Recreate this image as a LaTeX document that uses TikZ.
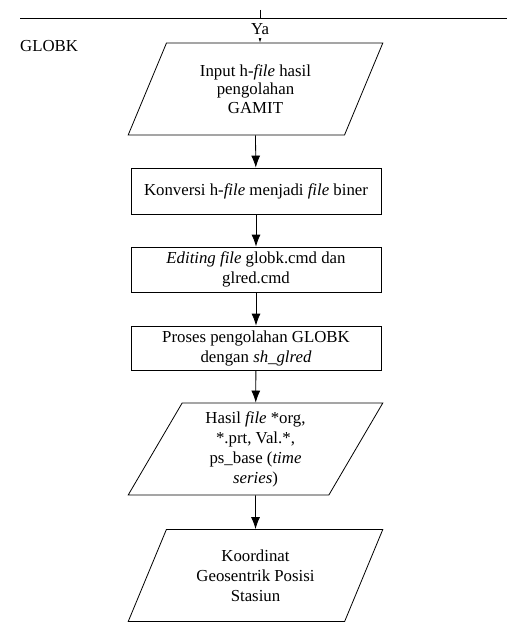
\documentclass[tikz,border=0pt]{standalone}
\usepackage{fontspec}
\setmainfont{Liberation Serif}
\usetikzlibrary{arrows.meta,shapes.geometric}

\tikzset{
  >={Latex[length=12pt,width=9pt]},
  flowtext/.style={font=\fontsize{16.8}{20}\selectfont, align=center, inner sep=0pt},
  procbox/.style={flowtext, draw, line width=0.8pt, minimum width=250pt},
  iobox/.style={flowtext, draw, line width=0.8pt, trapezium, trapezium left angle=64,
    trapezium right angle=116, trapezium stretches=true, minimum width=255pt}
}

\begin{document}
\begin{tikzpicture}[x=1pt,y=-1pt]
%      \draw [help lines, opacity=0] (0,0) grid (507,623);
      \useasboundingbox (0,0) rectangle (507,623);
      \draw [-, line width=0.8pt] (20,18) -- (507,18);
      \node [flowtext, right] (globk) at (20,46) {GLOBK};
      \coordinate (ytop) at (260,10);

      \node [iobox, minimum height=92pt, font=\fontsize{16.8}{18.5}\selectfont] (inp) at (255.5,89)
        {Input h-\textit{file} hasil\\pengolahan\\GAMIT};
      \node [procbox, minimum height=46pt] (konv) at (256,191)
        {Konversi h-\textit{file} menjadi \textit{file} biner};
      \node [procbox, minimum height=45pt] (edit) at (256,269.5)
        {\textit{Editing file} globk.cmd dan\\glred.cmd};
      \node [procbox, minimum height=44pt] (proses) at (256,348)
        {Proses pengolahan GLOBK\\dengan \textit{sh\_glred}};
      \node [iobox, minimum height=92pt] (hasil) at (255.5,449)
        {Hasil \textit{file} *org,\\*.prt, Val.*,\\ps\_base (\textit{time}\\\textit{series})};
      \node [iobox, minimum height=92pt] (koord) at (255.5,575.5)
        {Koordinat\\Geosentrik Posisi\\Stasiun};

      \draw [->, line width=0.8pt] (ytop) -- (ytop |- inp.north);
      \node [flowtext, fill=white, minimum height=19pt, minimum width=22pt] (ya) at (260,29) {Ya};
      \draw [->, line width=0.8pt] (inp.south) -- (konv);
      \draw [->, line width=0.8pt] (konv) -- (edit);
      \draw [->, line width=0.8pt] (edit) -- (proses);
      \draw [->, line width=0.8pt] (proses) -- (hasil);
      \draw [->, line width=0.8pt] (hasil.south) -- (koord);
\end{tikzpicture}
\end{document}
